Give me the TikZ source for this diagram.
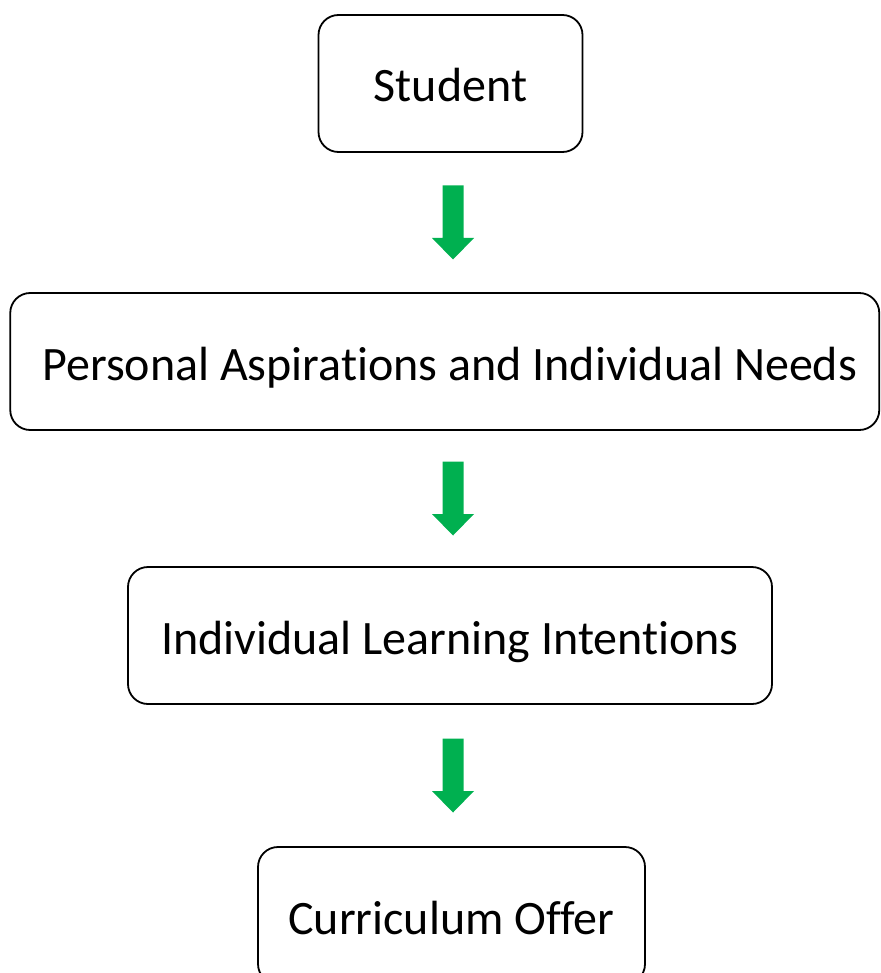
\documentclass[tikz,border=0pt]{standalone}
\usepackage{fontspec}
\setmainfont[Ligatures={NoCommon,NoRequired,NoContextual},RawFeature={-liga;-dlig}]{Carlito}
\usetikzlibrary{calc}
\definecolor{flowgreen}{HTML}{00B050}
\tikzset{
  stagebox/.style={draw=black, line width=1.8pt, rounded corners=20pt, fill=white,
    inner sep=0pt, align=center, text height=37pt, text depth=0pt,
    font=\fontsize{48}{56}\selectfont},
  flowarrow/.pic={
    \fill[flowgreen] (-10.5,-37) -- (10.5,-37) -- (10.5,15.5) -- (21,15.5)
      -- (0,37) -- (-21,15.5) -- (-10.5,15.5) -- cycle;
  }
}
\begin{document}
\begin{tikzpicture}[x=1pt,y=-1pt]
  \useasboundingbox (0,0) rectangle (880,973);
  \node[stagebox, minimum width=264pt, minimum height=137pt] (s) at (450.5,83.5) {Student};
  \node[stagebox, minimum width=869pt, minimum height=137pt] (p) at (444.75,361.5) {\hspace*{10pt}Personal Aspirations and Individual Needs};
  \node[stagebox, minimum width=644pt, minimum height=137pt] (l) at (450,635.5) {Individual Learning Intentions};
  \node[stagebox, minimum width=387pt, minimum height=137pt] (c) at (451.5,915.5) {Curriculum Offer};
  % vertical axis shared by the three arrows
  \coordinate (axis) at (453,0);
  \coordinate (m1) at ($(s.south)!0.5!(p.north)$);
  \coordinate (m2) at ($(p.south)!0.5!(l.north)$);
  \coordinate (m3) at ($(l.south)!0.5!(c.north)$);
  \pic at (axis |- m1) {flowarrow};
  \pic at (axis |- m2) {flowarrow};
  \pic at (axis |- m3) {flowarrow};
\end{tikzpicture}
\end{document}
